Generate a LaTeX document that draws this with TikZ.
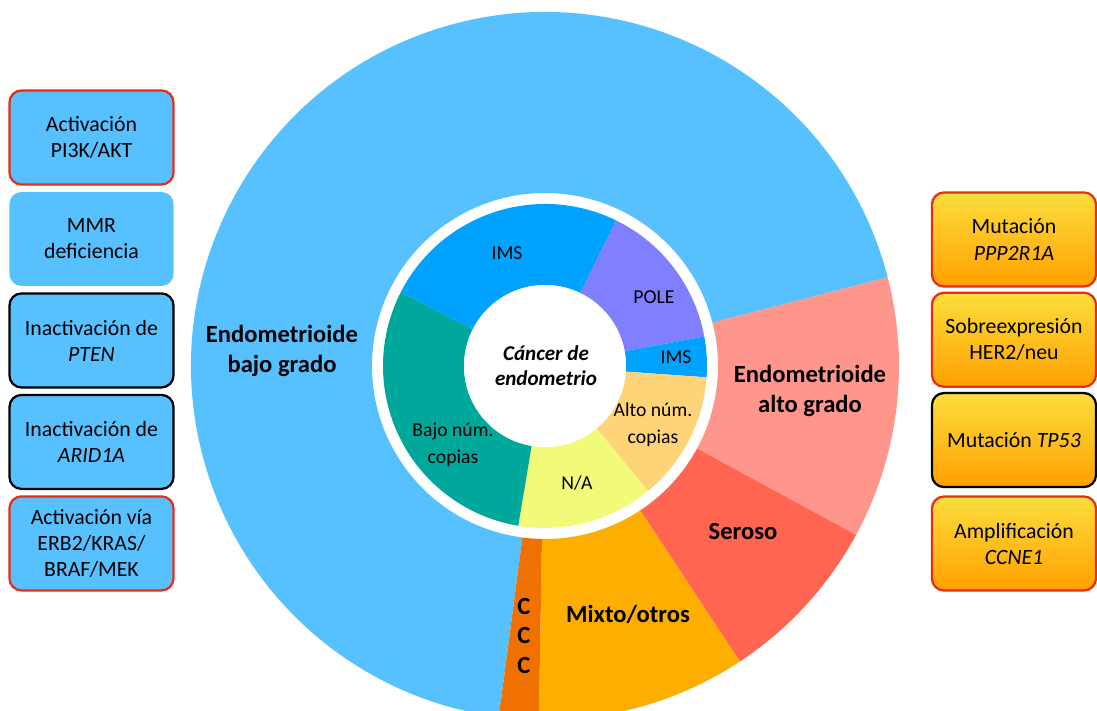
\documentclass[tikz,border=0pt]{standalone}
\usepackage{fontspec}
\setmainfont{Carlito}
\usetikzlibrary{positioning}

\definecolor{lowblue}{RGB}{87,193,255}
\definecolor{imsblue}{RGB}{0,162,255}
\definecolor{polevio}{RGB}{128,128,255}
\definecolor{altoyel}{RGB}{255,212,121}
\definecolor{nayel}{RGB}{242,250,122}
\definecolor{bajoteal}{RGB}{0,168,156}
\definecolor{highpink}{RGB}{255,150,140}
\definecolor{serred}{RGB}{255,101,80}
\definecolor{mixorange}{RGB}{253,174,0}
\definecolor{cccorange}{RGB}{240,113,0}
\definecolor{boxred}{RGB}{232,44,24}
\definecolor{boxtop}{RGB}{252,222,60}
\definecolor{boxbot}{RGB}{255,160,0}

% start angle, end angle, inner radius, outer radius, colour
\newcommand{\ringpart}[5]{%
  \fill[#5] (#1:#4) arc[start angle=#1, end angle=#2, radius=#4]
    -- (#2:#3) arc[start angle=#2, end angle=#1, radius=#3] -- cycle;}

\tikzset{
  mutbox/.style={rounded corners=0.3cm, minimum width=4.1cm, minimum height=2.35cm,
    align=center, line width=1.6pt, font=\fontsize{15.5}{18.5}\selectfont},
  leftbox/.style={mutbox, fill=lowblue},
  rightbox/.style={mutbox, top color=boxtop, bottom color=boxbot},
  biglabel/.style={align=center, font=\fontsize{17.5}{21}\selectfont\bfseries},
  smalllabel/.style={align=center, font=\fontsize{14}{19}\selectfont},
}

\begin{document}
\begin{tikzpicture}[x=0.025cm, y=0.025cm]
  \useasboundingbox (-545,-344) rectangle (552,366);

  % outer ring
  \foreach \a/\b/\c in {14.5/262.5/lowblue, -28.5/14.5/highpink, -56.6/-28.5/serred,
                        -91/-56.6/mixorange, -97.5/-91/cccorange} {
    \ringpart{\a}{\b}{173}{354}{\c}
  }
  % inner ring
  \foreach \a/\b/\c in {64/153/imsblue, 10.5/64/polevio, -4/10.5/imsblue,
                        -50.5/-4/altoyel, -99.5/-50.5/nayel, 153/260.5/bajoteal} {
    \ringpart{\a}{\b}{81}{162}{\c}
  }
  \fill[white] (0,0) circle[radius=81];

  \node[align=center, font=\fontsize{15}{18}\selectfont\bfseries\itshape] (core) at (1,0)
    {Cáncer de\\endometrio};

  \node[biglabel] (lowgrade) at (-263,15) {Endometrioide\\bajo grado};
  \node[biglabel] (highgrade) at (265,-25) {Endometrioide\\alto grado};
  \node[biglabel] (serous) at (198,-166) {Seroso};
  \node[biglabel] (mixed) at (83,-248) {Mixto/otros};
  \node[biglabel] (ccc) at (-21,-270) {C\\C\\C};

  \node[smalllabel] (imstop) at (-38,113) {IMS};
  \node[smalllabel] (pole) at (109,69) {POLE};
  \node[smalllabel] (imsside) at (131,9) {IMS};
  \node[smalllabel] (highcopy) at (108,-59) {Alto núm.\\copias};
  \node[smalllabel] (na) at (32,-117) {N/A};
  \node[smalllabel] (lowcopy) at (-92,-79) {Bajo núm.\\copias};

  % left boxes
  \node[leftbox, draw=boxred] (pik) at (-453.5,228.5) {Activación\\PI3K/AKT};
  \node[leftbox, below=0.13cm of pik] (mmr) {MMR\\deficiencia};
  \node[leftbox, draw=black, below=0.13cm of mmr] (pten) {Inactivación de\\\textit{PTEN}};
  \node[leftbox, draw=black, below=0.13cm of pten] (arid) {Inactivación de\\\textit{ARID1A}};
  \node[leftbox, draw=boxred, below=0.13cm of arid] (erb) {Activación vía\\ERB2/KRAS/\\BRAF/MEK};

  % right boxes
  \node[rightbox, draw=boxred] (ppp) at (469,126.5) {Mutación\\\textit{PPP2R1A}};
  \node[rightbox, draw=boxred, below=0.1cm of ppp] (her) {Sobreexpresión\\HER2/neu};
  \node[rightbox, draw=black, below=0.1cm of her] (tp) {Mutación \textit{TP53}};
  \node[rightbox, draw=boxred, below=0.18cm of tp] (ccne) {Amplificación\\\textit{CCNE1}};
\end{tikzpicture}
\end{document}
